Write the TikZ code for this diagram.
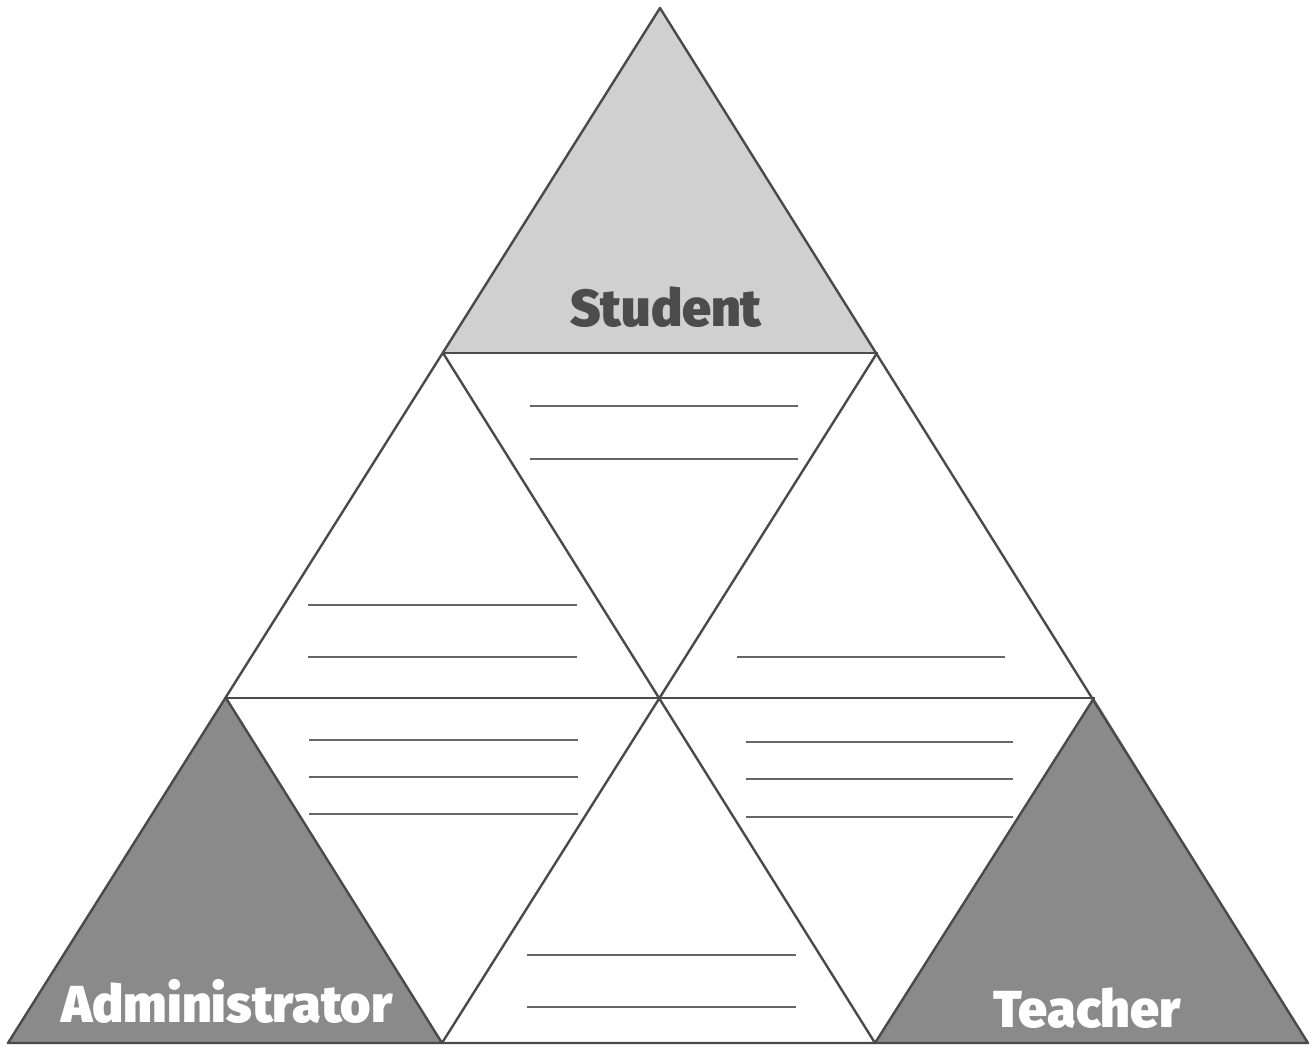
\documentclass[tikz,border=0pt]{standalone}
\usepackage{fontspec}
\newfontfamily\labelfont{Fira Sans Black}
\definecolor{edgegray}{HTML}{4A4A4A}
\definecolor{rulegray}{HTML}{666666}
\definecolor{lightfill}{HTML}{D0D0D0}
\definecolor{darkfill}{HTML}{8A8A8A}
\definecolor{studenttext}{HTML}{4C4C4C}
\tikzset{
  edge/.style={draw=edgegray, line width=2.4pt, line join=round, line cap=round},
  writeline/.style={draw=rulegray, line width=1.5pt},
  rolelabel/.style={font=\labelfont\fontsize{52}{62}\selectfont, anchor=base, inner sep=0pt}
}
\begin{document}
\begin{tikzpicture}[x=1pt,y=-1pt]
\useasboundingbox (0,0) rectangle (1312,1048);
\fill[white] (0,0) rectangle (1312,1048);
% corner points
\coordinate (A) at (660,8);
\coordinate (P1L) at (443,353);
\coordinate (P1R) at (877,353);
\coordinate (P2L) at (226,698);
\coordinate (P2M) at (660,698);
\coordinate (P2R) at (1094,698);
\coordinate (B0) at (8,1043);
\coordinate (B1) at (442,1043);
\coordinate (B2) at (875,1043);
\coordinate (B3) at (1308,1043);
% shaded triangles
\fill[lightfill] (A) -- (P1L) -- (P1R) -- cycle;
\fill[darkfill] (P2L) -- (B0) -- (B1) -- cycle;
\fill[darkfill] (P2R) -- (B2) -- (B3) -- cycle;
% writing lines
\coordinate (t1a) at (530,406); \coordinate (t1b) at (798,406);
\coordinate (t2a) at (530,459); \coordinate (t2b) at (798,459);
\draw[writeline] (t1a) -- (t1b);
\draw[writeline] (t2a) -- (t2b);
\coordinate (l1a) at (308,605); \coordinate (l1b) at (577,605);
\coordinate (l2a) at (308,657); \coordinate (l2b) at (577,657);
\draw[writeline] (l1a) -- (l1b);
\draw[writeline] (l2a) -- (l2b);
\coordinate (r1a) at (737,657); \coordinate (r1b) at (1005,657);
\draw[writeline] (r1a) -- (r1b);
\coordinate (ll1a) at (309,740); \coordinate (ll1b) at (578,740);
\coordinate (ll2a) at (309,777); \coordinate (ll2b) at (578,777);
\coordinate (ll3a) at (309,814); \coordinate (ll3b) at (578,814);
\draw[writeline] (ll1a) -- (ll1b);
\draw[writeline] (ll2a) -- (ll2b);
\draw[writeline] (ll3a) -- (ll3b);
\coordinate (lr1a) at (746,742); \coordinate (lr1b) at (1013,742);
\coordinate (lr2a) at (746,779); \coordinate (lr2b) at (1013,779);
\coordinate (lr3a) at (746,817); \coordinate (lr3b) at (1013,817);
\draw[writeline] (lr1a) -- (lr1b);
\draw[writeline] (lr2a) -- (lr2b);
\draw[writeline] (lr3a) -- (lr3b);
\coordinate (b1a) at (527,955); \coordinate (b1b) at (796,955);
\coordinate (b2a) at (527,1007); \coordinate (b2b) at (796,1007);
\draw[writeline] (b1a) -- (b1b);
\draw[writeline] (b2a) -- (b2b);
% grid edges
\draw[edge] (A) -- (B0) -- (B3) -- cycle;
\draw[edge] (P1L) -- (P1R);
\draw[edge] (P2L) -- (P2R);
\draw[edge] (B1) -- (P1R);
\draw[edge] (B2) -- (P2R);
\draw[edge] (B2) -- (P1L);
\draw[edge] (B1) -- (P2L);
% labels
\node[rolelabel, text=studenttext] (student) at (666,327) {Student};
\node[rolelabel, text=white] (admin) at (227,1022) {Administrator};
\node[rolelabel, text=white] (teacher) at (1087,1027) {Teacher};
\end{tikzpicture}
\end{document}
